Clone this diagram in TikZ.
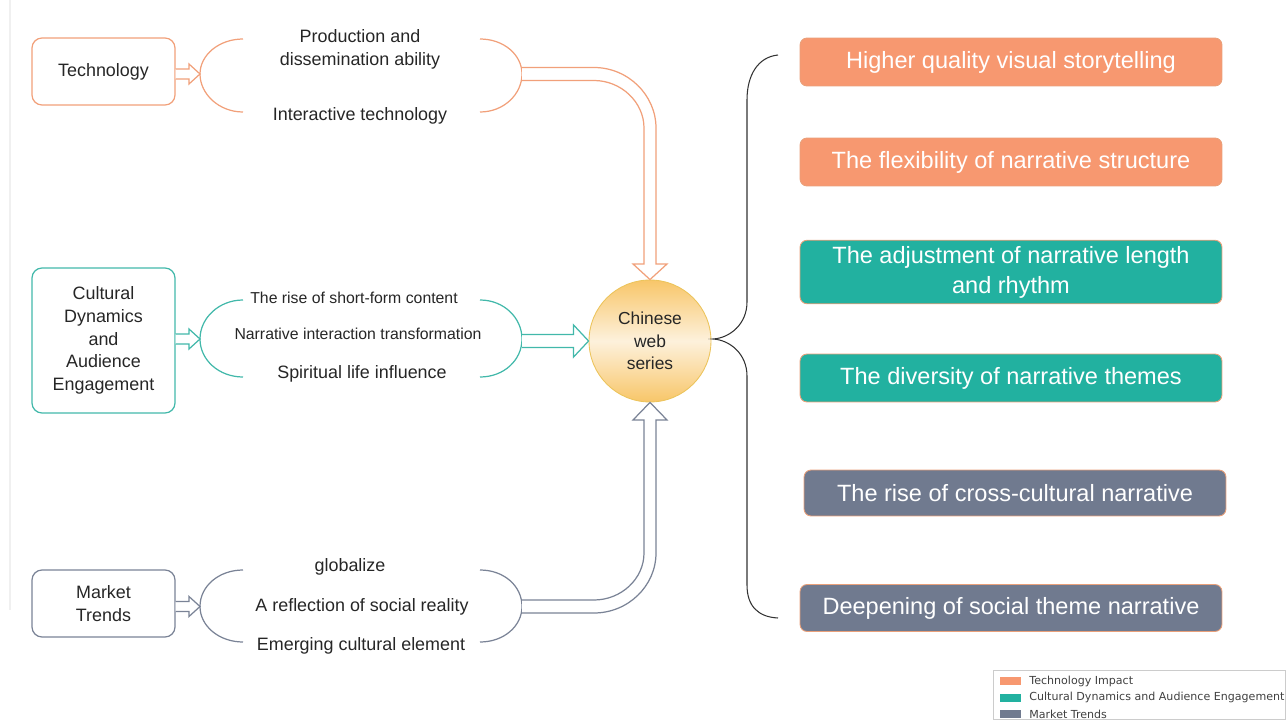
\documentclass[tikz,border=0pt]{standalone}
\usepackage{fontspec}
\setmainfont{Liberation Sans}
\newfontfamily\legfont{DejaVu Sans}
\usetikzlibrary{calc}
\definecolor{tor}{RGB}{241,160,122}
\definecolor{torf}{RGB}{247,152,112}
\definecolor{ttl}{RGB}{66,184,170}
\definecolor{ttlf}{RGB}{34,177,160}
\definecolor{tgy}{RGB}{122,131,150}
\definecolor{tgyf}{RGB}{112,122,143}
\definecolor{bdr}{RGB}{233,160,122}
\definecolor{cirt}{RGB}{248,198,105}
\definecolor{cirm}{RGB}{253,241,220}
\definecolor{cird}{RGB}{236,196,92}
\begin{document}
\begin{tikzpicture}[x=0.02cm,y=-0.02cm,
 catbox/.style={rounded corners=0.2cm, line width=0.7pt, minimum width=2.86cm, align=center, font=\fontsize{10.2}{13}\selectfont, text=black!85},
 item/.style={font=\fontsize{10.2}{13}\selectfont, align=center, text=black!85},
 smallitem/.style={font=\fontsize{9}{11}\selectfont, text=black!85},
 resbox/.style={draw=bdr, line width=0.5pt, rounded corners=0.14cm, minimum width=8.44cm, text=white, font=\fontsize{13.4}{17}\selectfont, align=center},
 brk/.style={line width=0.7pt},
 harrow/.style={line width=0.7pt, fill=white, line join=miter},
 legtext/.style={anchor=west, font=\legfont\fontsize{6.3}{7.5}\selectfont, text=black!75, inner sep=0pt},
]
\useasboundingbox (0,0) rectangle (1286,720);
\draw[black!6, line width=1.5pt] (10,0) -- (10,610);

% category boxes
\node[catbox, draw=tor, minimum height=1.34cm] (tB) at (103.5,71.5) {Technology};
\node[catbox, draw=ttl, minimum height=2.9cm] (cB) at (103.5,340.5) {Cultural\\Dynamics\\and\\Audience\\Engagement};
\node[catbox, draw=tgy, minimum height=1.34cm] (mB) at (103.5,603.5) {Market\\Trends};

% bracket apexes
\coordinate (tL) at (200,74);
\coordinate (tR) at (522,74);
\coordinate (cL) at (200,339);
\coordinate (cR) at (522,339);
\coordinate (mL) at (200,606.5);
\coordinate (mR) at (522,606.5);

% central circle
\node[circle, minimum size=2.44cm, inner sep=0pt, draw=cird, line width=0.5pt,
      top color=cirt, bottom color=cirt, middle color=cirm,
      align=center, font=\fontsize{9.9}{12.8}\selectfont, text=black!85] (c) at (650,341) {Chinese\\web\\series};

% brackets
\draw[brk, draw=tor] (243,39) .. controls (219,39) and (200,55) .. (tL) .. controls (200,94) and (219,112) .. (243,112);
\draw[brk, draw=tor] (480,39) .. controls (504,39) and (522,55) .. (tR) .. controls (522,94) and (504,112) .. (480,112);
\draw[brk, draw=ttl] (243,300) .. controls (219,300) and (200,318) .. (cL) .. controls (200,360) and (219,377) .. (243,377);
\draw[brk, draw=ttl] (480,300) .. controls (504,300) and (522,318) .. (cR) .. controls (522,360) and (504,377) .. (480,377);
\draw[brk, draw=tgy] (243,570) .. controls (219,570) and (200,586) .. (mL) .. controls (200,626) and (219,642) .. (243,642);
\draw[brk, draw=tgy] (480,570) .. controls (504,570) and (522,586) .. (mR) .. controls (522,626) and (504,642) .. (480,642);

% items
\node[item] (t1) at (360,49.5) {Production and\\dissemination ability};
\node[item] (t2) at (360,116) {Interactive technology};
\node[smallitem] (c1) at (354,298) {The rise of short-form content};
\node[smallitem] (c2) at (358,334) {Narrative interaction transformation};
\node[item] (c3) at (362,374) {Spiritual life influence};
\node[item] (m1) at (350,567) {globalize};
\node[item] (m2) at (362,607) {A reflection of social reality};
\node[item] (m3) at (361,646) {Emerging cultural element};

% small hollow arrows
\draw[harrow, draw=tor] ($(tB.east|-tL)+(0,-5)$) -- ($(tL)+(-11,-5)$) -- ($(tL)+(-11,-10)$) -- (tL) -- ($(tL)+(-11,10)$) -- ($(tL)+(-11,5)$) -- ($(tB.east|-tL)+(0,5)$);
\draw[harrow, draw=ttl] ($(cB.east|-cL)+(0,-5)$) -- ($(cL)+(-11,-5)$) -- ($(cL)+(-11,-10)$) -- (cL) -- ($(cL)+(-11,10)$) -- ($(cL)+(-11,5)$) -- ($(cB.east|-cL)+(0,5)$);
\draw[harrow, draw=tgy] ($(mB.east|-mL)+(0,-5)$) -- ($(mL)+(-11,-5)$) -- ($(mL)+(-11,-10)$) -- (mL) -- ($(mL)+(-11,10)$) -- ($(mL)+(-11,5)$) -- ($(mB.east|-mL)+(0,5)$);

% big hollow arrows to circle
\draw[harrow, draw=tor] ($(tR)+(0,-6.5)$) -- (594,67.5) .. controls (628,67.5) and (656,95) .. (656,128) -- (656,264) -- (667,264) -- (c.north) -- (633,264) -- (644,264) -- (644,128) .. controls (644,102) and (621,80.5) .. (594,80.5) -- ($(tR)+(0,6.5)$);
\draw[harrow, draw=ttl] ($(cR|-c.west)+(0,-6.5)$) -- ($(c.west)+(-15,-6.5)$) -- ($(c.west)+(-15,-16)$) -- (c.west) -- ($(c.west)+(-15,16)$) -- ($(c.west)+(-15,6.5)$) -- ($(cR|-c.west)+(0,6.5)$);
\draw[harrow, draw=tgy] ($(mR)+(0,6.5)$) -- (594,613) .. controls (628,613) and (656,586) .. (656,553) -- (656,420) -- (667,420) -- (c.south) -- (633,420) -- (644,420) -- (644,553) .. controls (644,579) and (621,600) .. (594,600) -- ($(mR)+(0,-6.5)$);

% brace
\coordinate (bt) at (778,55);
\coordinate (bc) at (713,339);
\coordinate (bb) at (778,618);
\draw[line width=0.6pt, black!80] (bt) .. controls (758,57) and (747,75) .. (747,100) -- (747,302) .. controls (747,324) and (730,338) .. (bc) .. controls (730,340) and (747,354) .. (747,376) -- (747,585) .. controls (747,606) and (758,617) .. (bb);

% result boxes
\node[resbox, fill=torf, minimum height=0.96cm] (r1) at (1011,62) {Higher quality visual storytelling};
\node[resbox, fill=torf, minimum height=0.96cm] (r2) at (1011,162) {The flexibility of narrative structure};
\node[resbox, fill=ttlf, minimum height=1.24cm] (r3) at (1011,272) {The adjustment of narrative length\\and rhythm};
\node[resbox, fill=ttlf, minimum height=0.96cm] (r4) at (1011,378) {The diversity of narrative themes};
\node[resbox, fill=tgyf, minimum height=0.92cm] (r5) at (1015,493) {The rise of cross-cultural narrative};
\node[resbox, fill=tgyf, minimum height=0.94cm] (r6) at (1011,608) {Deepening of social theme narrative};

% legend
\draw[black!20, line width=0.5pt] (993,670) rectangle (1285.5,719.5);
\fill[torf] (1000,677) rectangle (1021,685);
\fill[ttlf] (1000,693.5) rectangle (1021,701.5);
\fill[tgyf] (1000,710) rectangle (1021,718);
\node[legtext] (l1) at (1029,681) {Technology Impact};
\node[legtext] (l2) at (1029,697.5) {Cultural Dynamics and Audience Engagement};
\node[legtext] (l3) at (1029,714) {Market Trends};
\end{tikzpicture}
\end{document}
